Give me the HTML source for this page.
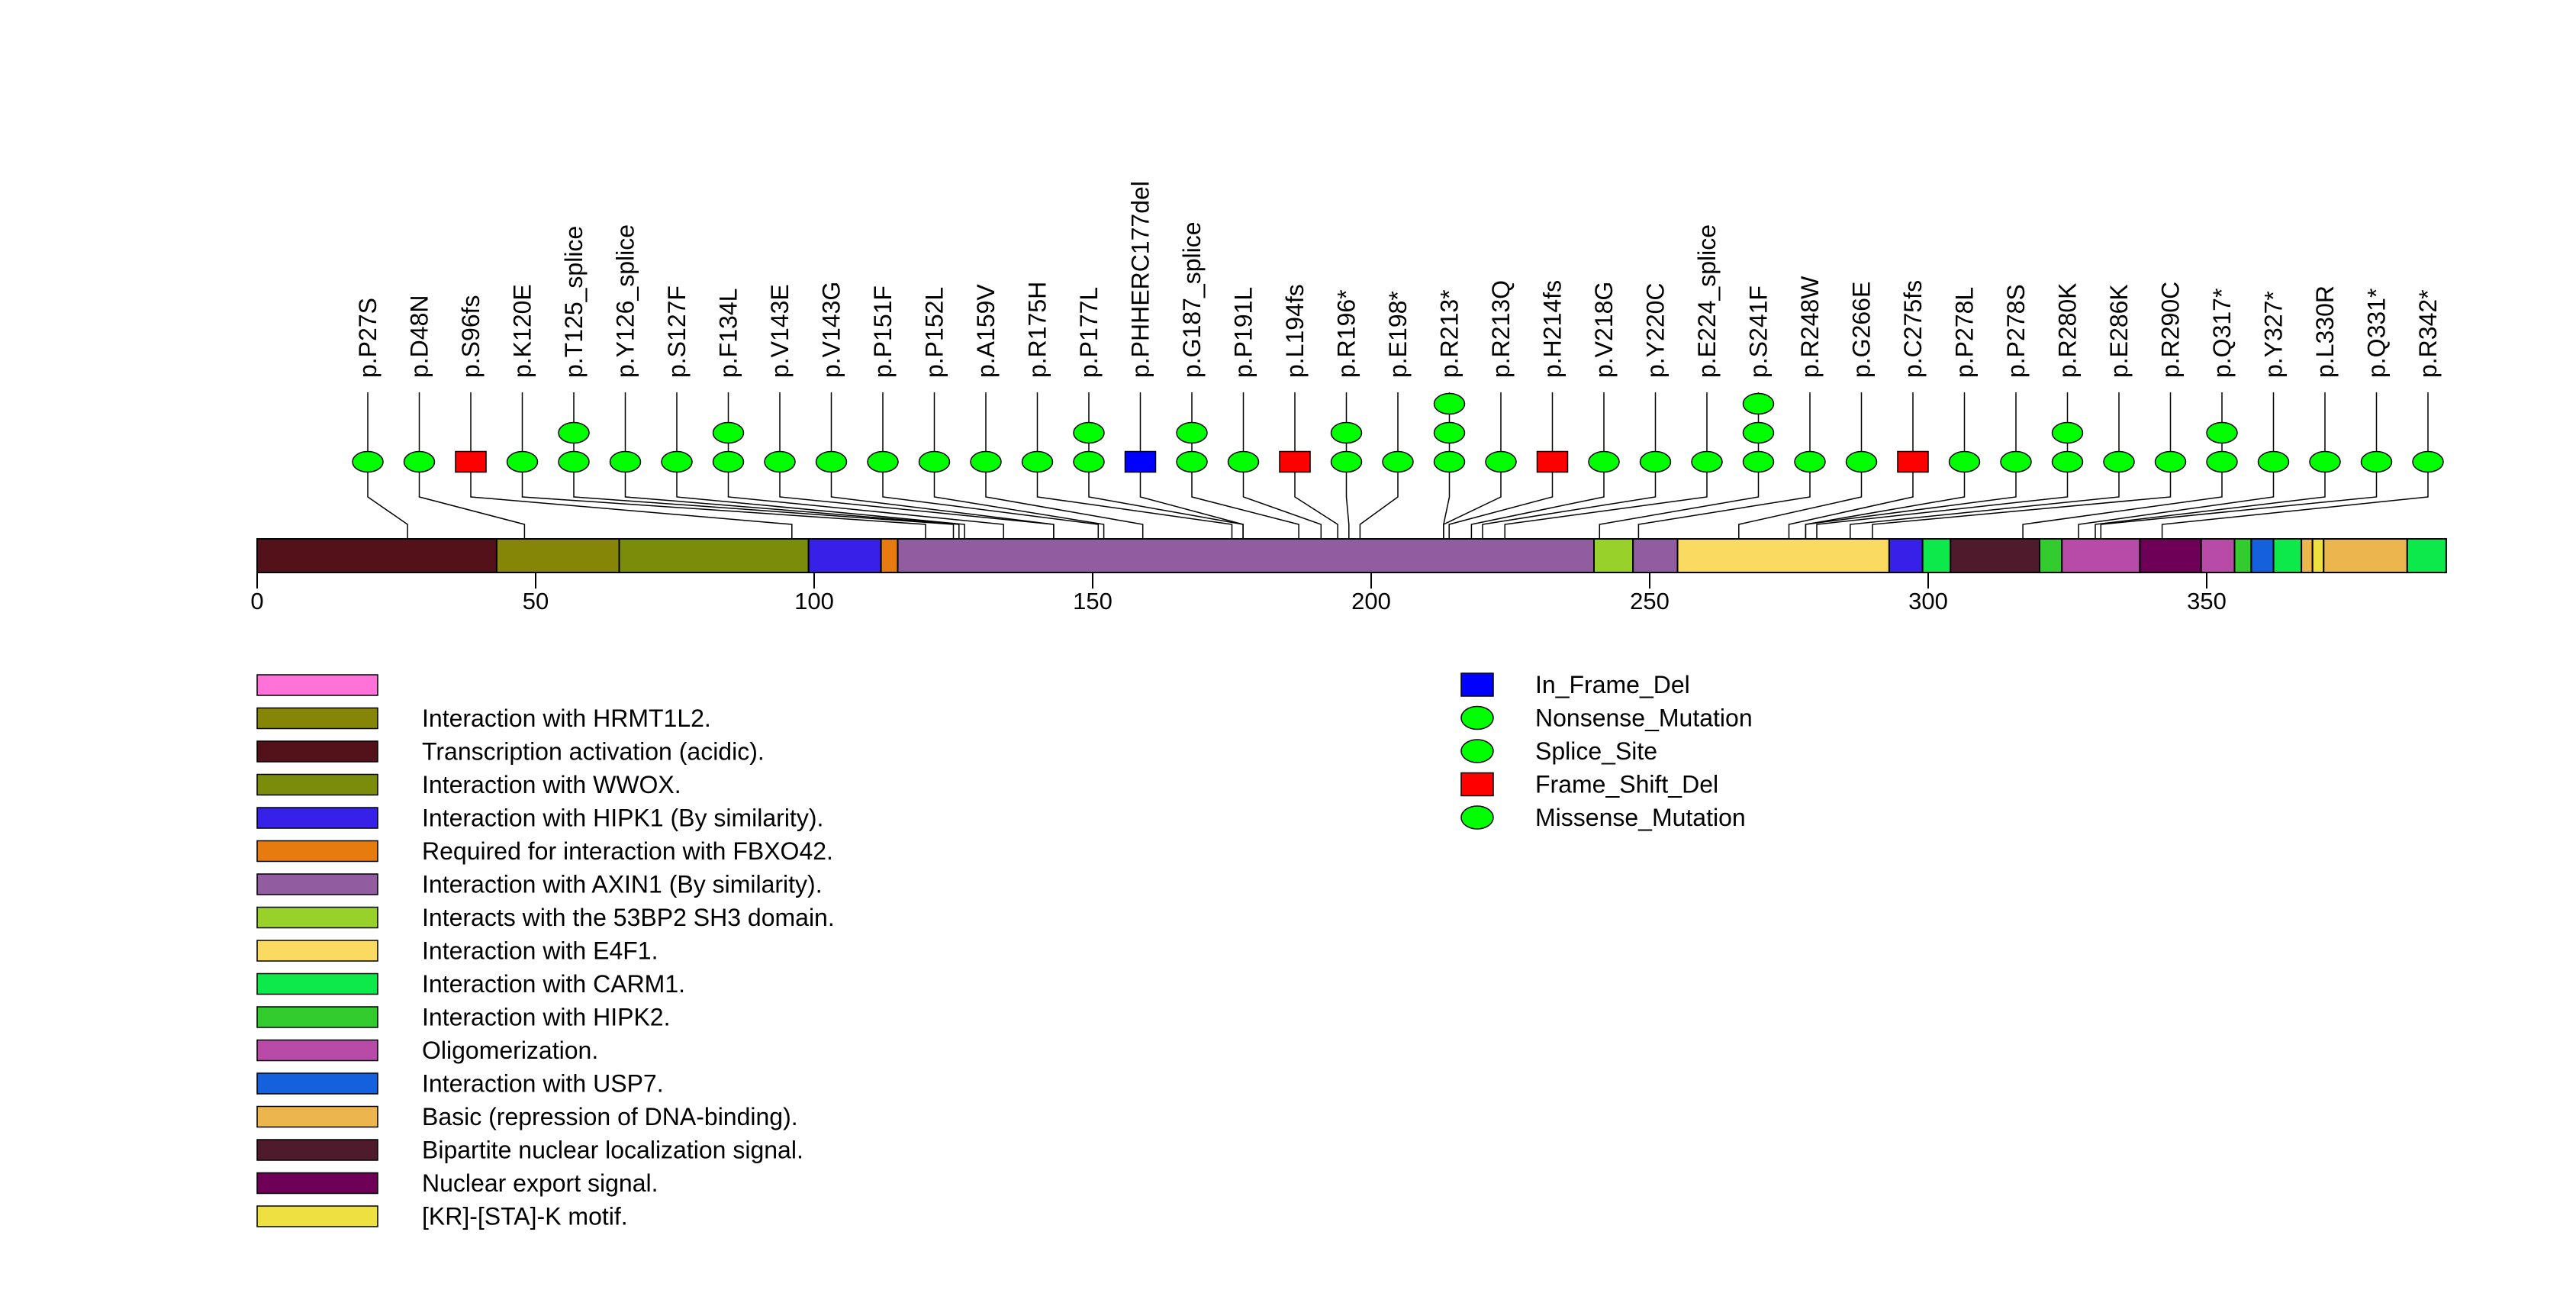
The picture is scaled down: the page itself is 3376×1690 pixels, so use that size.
<!DOCTYPE html>
<html><head><meta charset="utf-8"><style>
html,body{margin:0;padding:0;background:#fff;}
svg{display:block;font-family:"Liberation Sans",sans-serif;}
</style></head><body>
<svg id="chart" width="3376" height="1690" viewBox="0 0 3376 1690" xmlns="http://www.w3.org/2000/svg">
<g id="connectors"></g>
<g id="domains"></g>
<g id="axis"></g>
<g id="muts"></g>
<g id="legend"></g>
<g id="legend2"></g>
</svg>
<script>
const mutLabels=["p.P27S","p.D48N","p.S96fs","p.K120E","p.T125_splice","p.Y126_splice","p.S127F","p.F134L","p.V143E","p.V143G","p.P151F","p.P152L","p.A159V","p.R175H","p.P177L","p.PHHERC177del","p.G187_splice","p.P191L","p.L194fs","p.R196*","p.E198*","p.R213*","p.R213Q","p.H214fs","p.V218G","p.Y220C","p.E224_splice","p.S241F","p.R248W","p.G266E","p.C275fs","p.P278L","p.P278S","p.R280K","p.E286K","p.R290C","p.Q317*","p.Y327*","p.L330R","p.Q331*","p.R342*"];
const mutPositions=[27,48,96,120,125,126,127,134,143,143,151,152,159,175,177,177,187,191,194,196,198,213,213,214,218,220,224,241,248,266,275,278,278,280,286,290,317,327,330,331,342];
const mutCounts=[1,1,1,1,2,1,1,2,1,1,1,1,1,1,2,1,2,1,1,2,1,3,1,1,1,1,1,3,1,1,1,1,1,2,1,1,2,1,1,1,1];
const mutTypes=["mis","mis","fs","mis","spl","spl","mis","mis","mis","mis","mis","mis","mis","mis","mis","del","spl","mis","fs","non","non","non","mis","fs","mis","mis","spl","mis","mis","mis","fs","mis","mis","mis","mis","mis","non","non","mis","non","non"];
const domStarts=[0,43,65,99,112,115,240,247,255,293,299,304,320,324,338,349,355,358,362,367,369,371,386];
const domEnds=[43,65,99,112,115,240,247,255,293,299,304,320,324,338,349,355,358,362,367,369,371,386,393];
const domColors=["#53111a","#858508","#7a8c0a","#3720e8","#e77b10","#915ca0","#98d12a","#915ca0","#fada60","#3720e8","#0de84a","#4f1a2b","#33cc2e","#b84aa8","#6f0058","#b84aa8","#33cc2e","#1560dc","#0de84a","#edb54e","#ede040","#edb54e","#0de84a"];
const ticks=[0,50,100,150,200,250,300,350];
const legendLabels=["","Interaction with HRMT1L2.","Transcription activation (acidic).","Interaction with WWOX.","Interaction with HIPK1 (By similarity).","Required for interaction with FBXO42.","Interaction with AXIN1 (By similarity).","Interacts with the 53BP2 SH3 domain.","Interaction with E4F1.","Interaction with CARM1.","Interaction with HIPK2.","Oligomerization.","Interaction with USP7.","Basic (repression of DNA-binding).","Bipartite nuclear localization signal.","Nuclear export signal.","[KR]-[STA]-K motif."];
const legendColors=["#ff73d9","#858508","#53111a","#7a8c0a","#3720e8","#e77b10","#915ca0","#98d12a","#fada60","#0de84a","#33cc2e","#b84aa8","#1560dc","#edb54e","#4f1a2b","#6f0058","#ede040"];
const typeLabels=["In_Frame_Del","Nonsense_Mutation","Splice_Site","Frame_Shift_Del","Missense_Mutation"];
const typeShapes=["sq-blue","ell","ell","sq-red","ell"];

const NS="http://www.w3.org/2000/svg";
const X0=337, PX=7.30;
const xs=v=>X0+v*PX;
const slotX=i=>482+i*67.5;
const BAR_T=706,BAR_B=750;
function mk(tag,attrs,parent){const e=document.createElementNS(NS,tag);for(const k in attrs)e.setAttribute(k,attrs[k]);parent.appendChild(e);return e;}

const gd=document.getElementById('domains');
for(let i=0;i<domStarts.length;i++){
  const r=mk('rect',{x:xs(domStarts[i]),y:BAR_T,width:xs(domEnds[i])-xs(domStarts[i]),height:BAR_B-BAR_T,fill:domColors[i],stroke:'#000','stroke-width':2},gd);
  
  
}
const ga=document.getElementById('axis');
ticks.forEach(t=>{
  const l=mk('line',{x1:xs(t),x2:xs(t),y1:BAR_B,y2:771,stroke:'#000','stroke-width':2},ga);
  
  
  const tx=mk('text',{x:xs(t),y:798,'font-size':31,'text-anchor':'middle'},ga);
  tx.textContent=t;
  
  
});
const gc=document.getElementById('connectors');
const gm=document.getElementById('muts');
const rowY=[605,567,529];
mutLabels.forEach((lab,i)=>{
  const sx=slotX(i), px=xs(mutPositions[i]);
  const p=mk('polyline',{points:`${sx},514 ${sx},651 ${px},687 ${px},${BAR_B}`,fill:'none',stroke:'#000','stroke-width':1.5},gc);
  
  
  for(let k=0;k<mutCounts[i];k++){
    const y=rowY[k];
    let m;
    if(mutTypes[i]==='fs'||mutTypes[i]==='del'){
      m=mk('rect',{x:sx-20,y:y-13.5,width:40,height:27,fill:mutTypes[i]==='fs'?'#ff0000':'#0000ff',stroke:'#000','stroke-width':1.5},gm);
    } else {
      m=mk('ellipse',{cx:sx,cy:y,rx:20,ry:13.5,fill:'#00ff00',stroke:'#000','stroke-width':1.5},gm);
    }
    
    
  }
  const t=mk('text',{x:0,y:0,'font-size':32,transform:`translate(${sx+11},495) rotate(-90)`},gm);
  t.textContent=lab;
  
  
});
const gl=document.getElementById('legend');
legendLabels.forEach((lab,i)=>{
  const cy=897.5+43.5*i;
  const r=mk('rect',{x:337,y:cy-13.5,width:158,height:27,fill:legendColors[i],stroke:'#000','stroke-width':1.5},gl);
  
  
  const t=mk('text',{x:553,y:cy+11,'font-size':32},gl);
  t.textContent=lab;
  
  
});
const gl2=document.getElementById('legend2');
typeLabels.forEach((lab,i)=>{
  const cy=897+43.5*i;
  let m;
  if(typeShapes[i]==='ell'){
    m=mk('ellipse',{cx:1936,cy:cy,rx:21,ry:15,fill:'#00ff00',stroke:'#000','stroke-width':1.5},gl2);
  } else {
    m=mk('rect',{x:1915,y:cy-15,width:42,height:30,fill:typeShapes[i]==='sq-red'?'#ff0000':'#0000ff',stroke:'#000','stroke-width':1.5},gl2);
  }
  
  
  const t=mk('text',{x:2012,y:cy+11,'font-size':32},gl2);
  t.textContent=lab;
  
  
});
</script>
</body></html>
